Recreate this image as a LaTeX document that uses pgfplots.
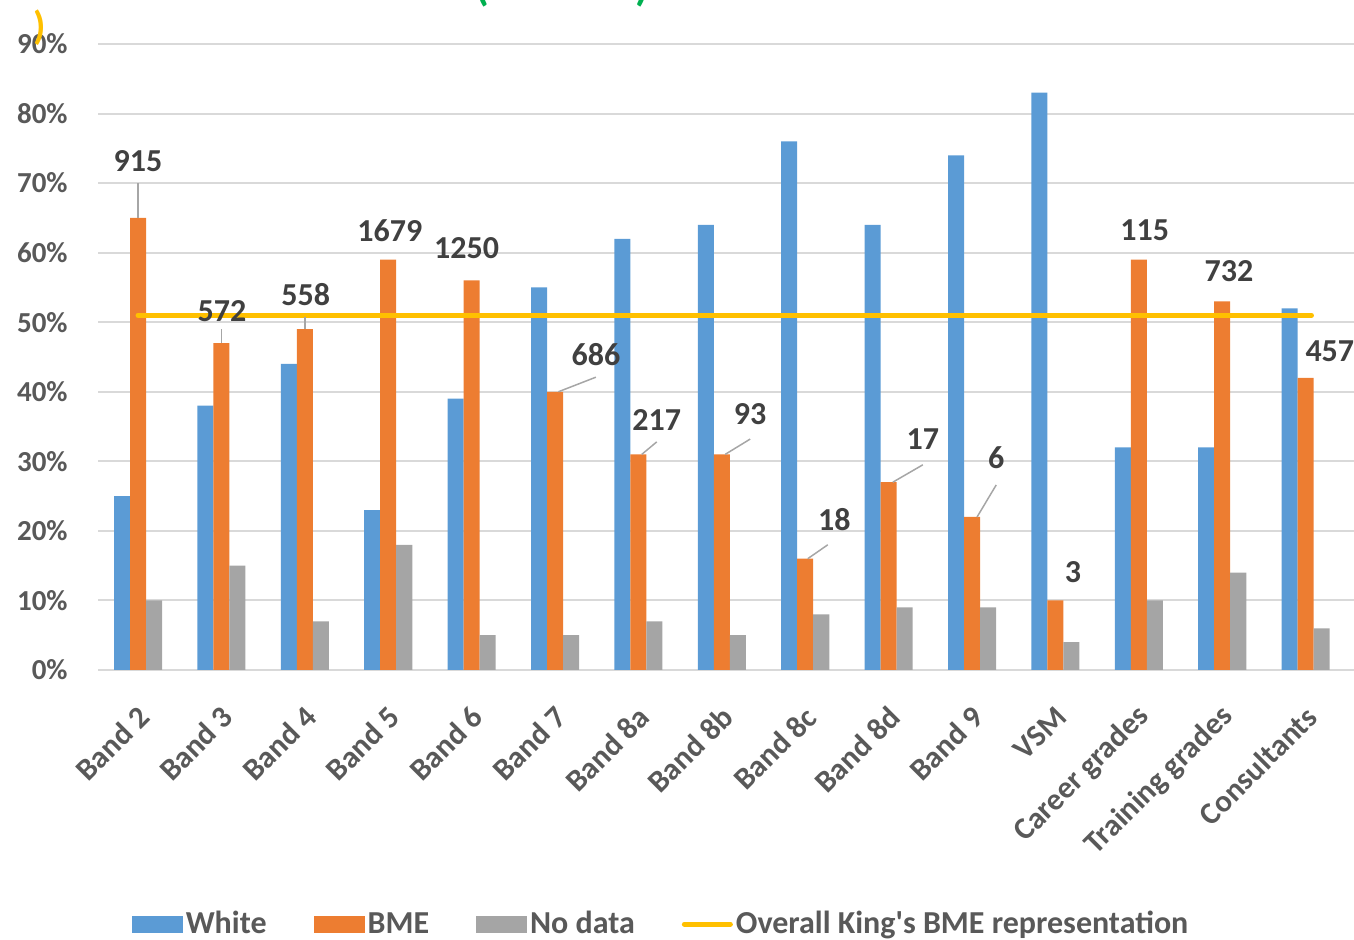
\documentclass[border=0pt]{standalone}
\usepackage{pgfplots}
\pgfplotsset{compat=1.18}
\usepackage{fontspec}
\setmainfont{Carlito}[Ligatures=TeXOff]
\definecolor{cblue}{HTML}{5B9BD5}
\definecolor{corange}{HTML}{ED7D31}
\definecolor{cgray}{HTML}{A5A5A5}
\definecolor{cyellow}{HTML}{FFC000}
\definecolor{gridc}{HTML}{D9D9D9}
\definecolor{labc}{HTML}{595959}
\definecolor{datc}{HTML}{404040}
\definecolor{leadc}{HTML}{A6A6A6}
\definecolor{cgreen}{HTML}{00B050}
\begin{document}
\begin{tikzpicture}[font=\bfseries]
\begin{axis}[
  at={(0,0)}, anchor=south west,
  scale only axis, width=628pt, height=313pt,
  xmin=-0.48, xmax=14.58, ymin=0, ymax=90,
  ybar, bar width=0.192,
  /pgf/number format/assume math mode=true,
  ytick={0,10,...,90},
  yticklabel={\pgfmathprintnumber{\tick}\%},
  ymajorgrids, grid style={color=gridc, line width=1pt},
  axis line style={draw=none},
  major tick length=0pt,
  tick style={draw=none},
  xtick={0,...,14},
  xticklabels={Band 2,Band 3,Band 4,Band 5,Band 6,Band 7,Band 8a,Band 8b,Band 8c,Band 8d,Band 9,VSM,Career grades,Training grades,Consultants},
  yticklabel style={color=labc, font=\bfseries\fontsize{14.5}{16}\selectfont, inner sep=0pt, anchor=east, xshift=-15pt},
  xticklabel style={color=labc, font=\bfseries\fontsize{15.5}{17}\selectfont, xshift=3pt, yshift=-21pt, rotate=45, anchor=east, inner sep=0pt},
  legend columns=4,
  legend style={at={(axis description cs:0.4487,-0.406)}, anchor=center, draw=none,
    font=\bfseries\fontsize{16}{18}\selectfont, text=labc,
    nodes={inner xsep=1.5pt, inner ysep=1pt},
    /tikz/every even column/.append style={column sep=22pt}},
  legend cell align=left,
  clip=false,
]
\addplot[fill=cblue, draw=none, bar shift=-0.192,
  legend image code/.code={\fill[cblue] (0pt,-4.25pt) rectangle (25.5pt,4.25pt);}]
  coordinates {(0,25) (1,38) (2,44) (3,23) (4,39) (5,55) (6,62) (7,64) (8,76) (9,64) (10,74) (11,83) (12,32) (13,32) (14,52)};
\addlegendentry{White}
\addplot[fill=corange, draw=none, bar shift=0,
  legend image code/.code={\fill[corange] (0pt,-4.25pt) rectangle (25.5pt,4.25pt);}]
  coordinates {(0,65) (1,47) (2,49) (3,59) (4,56) (5,40) (6,31) (7,31) (8,16) (9,27) (10,22) (11,10) (12,59) (13,53) (14,42)};
\addlegendentry{BME}
\addplot[fill=cgray, draw=none, bar shift=0.192,
  legend image code/.code={\fill[cgray] (0pt,-4.25pt) rectangle (25.5pt,4.25pt);}]
  coordinates {(0,10) (1,15) (2,7) (3,18) (4,5) (5,5) (6,7) (7,5) (8,8) (9,9) (10,9) (11,4) (12,10) (13,14) (14,6)};
\addlegendentry{No data}
\addplot[sharp plot, cyellow, line width=2.5pt, line cap=round,
  legend image code/.code={\draw[cyellow, line width=2.5pt, line cap=round] (1.25pt,0pt) -- (24.25pt,0pt);}]
  coordinates {(0,51) (14.07,51)};
\addlegendentry{Overall King's BME representation}
% leader lines
\begin{scope}[leadc, line width=0.75pt]
\draw (axis cs:0,65) -- (axis cs:0,70);
\draw (axis cs:1,47) -- (axis cs:1,49);
\draw (axis cs:2,49) -- (axis cs:2,50.7);
\draw (axis cs:5.04,40) -- (axis cs:5.49,42.1);
\draw (axis cs:6.04,31) -- (axis cs:6.22,32.8);
\draw (axis cs:7.04,31) -- (axis cs:7.34,33.2);
\draw (axis cs:8.03,16) -- (axis cs:8.27,18);
\draw (axis cs:9.05,27) -- (axis cs:9.41,29.5);
\draw (axis cs:10.06,22) -- (axis cs:10.29,26.6);
\end{scope}
\begin{scope}[every node/.style={text=datc, font=\bfseries\fontsize{16}{18}\selectfont, inner sep=0pt}]
\node at (axis cs:0,73.1) {915};
\node at (axis cs:1.007,51.6) {572};
\node at (axis cs:2.01,54) {558};
\node at (axis cs:3.02,63.2) {1679};
\node at (axis cs:3.94,60.6) {1250};
\node at (axis cs:5.49,45.4) {686};
\node at (axis cs:6.22,35.9) {217};
\node at (axis cs:7.34,36.8) {93};
\node at (axis cs:8.35,21.6) {18};
\node at (axis cs:9.41,33.2) {17};
\node at (axis cs:10.29,30.5) {6};
\node at (axis cs:11.21,14.1) {3};
\node at (axis cs:12.07,63.2) {115};
\node at (axis cs:13.08,57.3) {732};
\node at (axis cs:14.29,45.8) {457};
\end{scope}
\end{axis}
\node[text=cyellow, font=\bfseries\fontsize{20}{22}\selectfont, inner sep=0pt] at (-29pt,321pt) {)};
\node[text=cgreen, font=\bfseries\fontsize{22}{24}\selectfont, inner sep=0pt] at (192pt,341pt) {(};
\node[text=cgreen, font=\bfseries\fontsize{22}{24}\selectfont, inner sep=0pt] at (272pt,341pt) {)};
\pgfresetboundingbox
\useasboundingbox (-49pt,-135pt) rectangle (628pt,335pt);
\end{tikzpicture}
\end{document}
